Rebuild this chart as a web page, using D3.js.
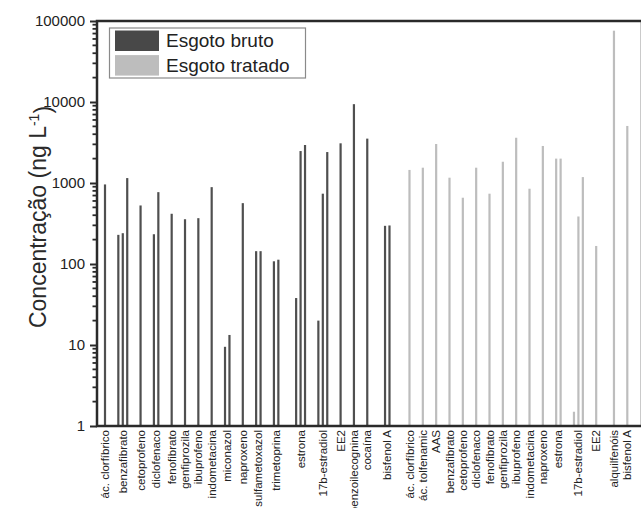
<!DOCTYPE html>
<html>
<head>
<meta charset="utf-8">
<script src="https://cdn.jsdelivr.net/npm/d3@7"></script>
<style>
  html, body { margin: 0; padding: 0; background: #fff; }
  svg { display: block; font-family: "Liberation Sans", Arial, sans-serif; }
</style>
</head>
<body>
<svg id="chart" width="641" height="508"></svg>
<script>
// ---- Data ----
const seriesNames = ["Esgoto bruto", "Esgoto tratado"];

// Esgoto bruto (raw sewage): compound labels and measured concentrations (ng/L), null = not shown
const brutoCategories = ["ác. clorfíbrico", "benzafibrato", "cetoprofeno", "diclofenaco", "fenofibrato",
  "genfiprozila", "ibuprofeno", "indometacina", "miconazol", "naproxeno", "sulfametoxazol",
  "trimetoprina", "estrona", "17b-estradiol", "EE2", "benzoilecognina", "cocaína", "bisfenol A"];
const brutoValues = [[960], [229, 240, 1150], [528], [233, 771], [417],
  [357], [368], [889], [9.5, 13.3], [564], [144, 144],
  [108, 113], [null, 38, 2480, 2945], [20, 738, 2410], [3090], [9400], [3530], [null, 296, 299]];

// Esgoto tratado (treated sewage)
const tratadoCategories = ["ác. clorfíbrico", "ác. tolfenamic", "AAS", "benzafibrato", "cetoprofeno",
  "diclofenaco", "fenofibrato", "genfiprozila", "ibuprofeno", "indometacina", "naproxeno",
  "estrona", "17b-estradiol", "EE2", "alquilfenóis", "bisfenol A"];
const tratadoValues = [[1450], [1545], [3030], [1163], [658],
  [1545], [738], [1830], [3620], [850], [2865],
  [2000, 2000], [1.5, 386, 1183], [167], [null, 75900], [5060]];

const yTickValues = [1, 10, 100, 1000, 10000, 100000];
const yTitle = "Concentração (ng L";
const yTitleSup = "-1";

// ---- Layout: assign sequential slots (one per study value), gaps between compounds ----
const GAP = 2, SERIES_GAP = 1.5;
const bars = [], labels = [];
let cursor = 0;
function layout(cats, vals, series) {
  cats.forEach((c, i) => {
    const used = [];
    vals[i].forEach(v => {
      if (v != null) { bars.push({ series, cat: c, slot: cursor, value: v }); used.push(cursor); }
      cursor += 1;
    });
    labels.push({ text: c, slot: d3.mean(used) });
    cursor += GAP;
  });
}
layout(brutoCategories, brutoValues, 0);
cursor += SERIES_GAP;
layout(tratadoCategories, tratadoValues, 1);
const lastSlot = d3.max(bars, d => d.slot);

// ---- Scales ----
const svg = d3.select("#chart");
const plot = { left: 97, top: 21, right: 642, bottom: 426 };
const x = d3.scaleLinear().domain([0, lastSlot]).range([105, 627.3]);
const y = d3.scaleLog().domain([1, 100000]).range([plot.bottom, plot.top]);
const colors = ["#4f4f4f", "#bdbdbd"];

// ---- Bars ----
svg.append("g").selectAll("rect").data(bars).join("rect")
  .attr("x", d => x(d.slot) - 1.1)
  .attr("width", 2.2)
  .attr("y", d => y(d.value))
  .attr("height", d => y(1) - y(d.value))
  .attr("fill", d => colors[d.series]);

// ---- Frame ----
svg.append("rect")
  .attr("x", plot.left).attr("y", plot.top)
  .attr("width", plot.right - plot.left).attr("height", plot.bottom - plot.top)
  .attr("fill", "none").attr("stroke", "#2a2a2a").attr("stroke-width", 2.5);

// ---- Y axis ----
const yAxis = d3.axisLeft(y).tickValues(yTickValues).tickFormat(d3.format("d"))
  .tickSize(7).tickPadding(5);
const yg = svg.append("g").attr("transform", `translate(${plot.left},0)`).call(yAxis);
yg.select(".domain").remove();
yg.selectAll(".tick line").attr("stroke", "#2a2a2a").attr("stroke-width", 2);
yg.selectAll(".tick text").attr("font-size", 15).attr("fill", "#222")
  .attr("font-family", "Liberation Sans, Arial, sans-serif");

// minor ticks
const minor = [];
for (let e = 0; e < 5; e++) for (let m = 2; m <= 9; m++) minor.push(m * Math.pow(10, e));
svg.append("g").selectAll("line").data(minor).join("line")
  .attr("x1", plot.left - 4.5).attr("x2", plot.left)
  .attr("y1", d => y(d)).attr("y2", d => y(d))
  .attr("stroke", "#2a2a2a").attr("stroke-width", 1.8);

// ---- Y title ----
const yt = svg.append("text")
  .attr("transform", `translate(46,217) rotate(-90)`)
  .attr("text-anchor", "middle")
  .attr("font-size", 23).attr("fill", "#2a2a2a");
yt.append("tspan").text(yTitle);
yt.append("tspan").attr("dy", "-0.5em").attr("font-size", 14).text(yTitleSup);
yt.append("tspan").attr("dy", "0.5em").text(")");

// ---- X labels ----
svg.append("g").selectAll("text").data(labels).join("text")
  .attr("transform", d => `translate(${x(d.slot)},430) rotate(-90)`)
  .attr("text-anchor", "end")
  .attr("dy", "0.35em")
  .attr("font-size", 11.5).attr("fill", "#222")
  .text(d => d.text);

// ---- Legend ----
const lg = svg.append("g");
lg.append("rect").attr("x", 109.5).attr("y", 28).attr("width", 196).attr("height", 50)
  .attr("fill", "#fff").attr("stroke", "#8a8a8a").attr("stroke-width", 1.2);
seriesNames.forEach((s, i) => {
  lg.append("rect").attr("x", 115).attr("y", 30.5 + i * 24.6).attr("width", 44).attr("height", 20.5)
    .attr("fill", colors[i] === "#4f4f4f" ? "#484848" : colors[i]);
  lg.append("text").attr("x", 166).attr("y", 40.8 + i * 24.6).attr("dy", "0.35em")
    .attr("font-size", 19).attr("fill", "#222").text(s);
});
</script>
</body>
</html>
